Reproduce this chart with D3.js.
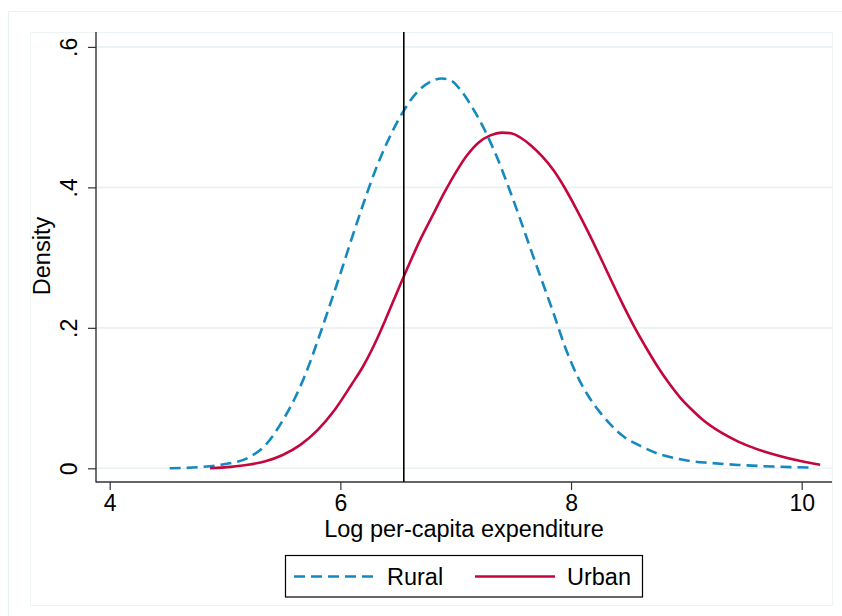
<!DOCTYPE html>
<html>
<head>
<meta charset="utf-8">
<script src="https://cdn.jsdelivr.net/npm/d3@7"></script>
<style>
  html, body { margin: 0; padding: 0; background: #ffffff; }
  svg { display: block; font-family: "Liberation Sans", Arial, Helvetica, sans-serif; }
</style>
</head>
<body>
<svg id="chart" width="842" height="616"></svg>
<script>
// ---- data ----
const ruralX = [4.52,4.80,5.00,5.20,5.35,5.50,5.60,5.70,5.80,5.90,6.00,6.10,6.20,6.30,6.40,6.50,6.60,6.70,6.80,6.88,6.95,7.05,7.15,7.25,7.35,7.45,7.55,7.65,7.75,7.85,7.95,8.05,8.15,8.25,8.35,8.45,8.60,8.75,8.90,9.05,9.20,9.45,9.75,10.10];
const ruralY = [0.000,0.002,0.006,0.015,0.033,0.068,0.098,0.135,0.180,0.228,0.277,0.328,0.377,0.423,0.462,0.495,0.522,0.541,0.552,0.555,0.553,0.537,0.512,0.482,0.446,0.404,0.359,0.312,0.266,0.220,0.172,0.133,0.103,0.080,0.061,0.046,0.032,0.021,0.0145,0.010,0.0077,0.0048,0.0025,0.001];
const urbanX = [4.87,5.05,5.20,5.35,5.50,5.65,5.80,5.95,6.10,6.20,6.30,6.40,6.50,6.60,6.70,6.80,6.90,7.00,7.10,7.20,7.30,7.40,7.48,7.56,7.65,7.75,7.85,7.95,8.05,8.15,8.25,8.35,8.45,8.55,8.65,8.75,8.85,8.95,9.05,9.15,9.30,9.45,9.60,9.80,10.00,10.16];
const urbanY = [0.000,0.002,0.005,0.010,0.019,0.033,0.054,0.083,0.120,0.146,0.178,0.215,0.254,0.292,0.328,0.360,0.392,0.421,0.446,0.464,0.474,0.478,0.477,0.471,0.460,0.444,0.424,0.398,0.368,0.336,0.302,0.267,0.233,0.201,0.172,0.145,0.121,0.100,0.083,0.068,0.051,0.038,0.028,0.018,0.010,0.005];
const povertyLine = 6.55;
const xTicks = [4, 6, 8, 10];
const yTicks = [0, 0.2, 0.4, 0.6];
const yTickLabels = ["0", ".2", ".4", ".6"];
const seriesNames = ["Rural", "Urban"];
const xTitle = "Log per-capita expenditure";
const yTitle = "Density";

// ---- layout ----
const svg = d3.select("#chart");
const plotL = 96, plotR = 832, plotT = 32, plotB = 482;
const colRural = "#1489bf", colUrban = "#c3063e";
const gridCol = "#e9f1f3", axisCol = "#333333";

const x = d3.scaleLinear().domain([4, 10]).range([109.7, 801.7]);
const y = d3.scaleLinear().domain([0, 0.6]).range([468.3, 46.9]);

// frames
svg.append("rect").attr("x", 8.5).attr("y", 11.5).attr("width", 900).attr("height", 700)
  .attr("fill", "none").attr("stroke", "#eaf1f3").attr("stroke-width", 1);
svg.append("rect").attr("x", 30.5).attr("y", 32.5).attr("width", plotR - 30).attr("height", 605 - 32)
  .attr("fill", "none").attr("stroke", "#eef4f5").attr("stroke-width", 1);

// gridlines
svg.append("g").selectAll("line").data(yTicks).join("line")
  .attr("x1", plotL).attr("x2", plotR)
  .attr("y1", d => y(d)).attr("y2", d => y(d))
  .attr("stroke", gridCol).attr("stroke-width", 1.6);

// axes
const yAxis = d3.axisLeft(y).tickValues(yTicks).tickSize(8).tickPadding(0)
  .tickFormat((d, i) => yTickLabels[i]);
const gy = svg.append("g").attr("transform", `translate(${plotL},0)`).call(yAxis);
gy.select(".domain").remove();
gy.selectAll(".tick line").attr("stroke", axisCol).attr("stroke-width", 1.2);
gy.selectAll(".tick text")
  .attr("transform", "translate(-19,0) rotate(-90)")
  .attr("x", 0).attr("y", 0).attr("dy", 0)
  .attr("text-anchor", "middle")
  .attr("fill", "#000").style("font-size", "23px")
  .style("font-family", "Liberation Sans, Arial, sans-serif");

const xAxis = d3.axisBottom(x).tickValues(xTicks).tickSize(8).tickPadding(0)
  .tickFormat(d3.format("d"));
const gx = svg.append("g").attr("transform", `translate(0,${plotB})`).call(xAxis);
gx.select(".domain").remove();
gx.selectAll(".tick line").attr("stroke", axisCol).attr("stroke-width", 1.2);
gx.selectAll(".tick text")
  .attr("y", 29).attr("dy", 0)
  .attr("fill", "#000").style("font-size", "23px")
  .style("font-family", "Liberation Sans, Arial, sans-serif");

// axis lines
svg.append("line").attr("x1", plotL).attr("x2", plotL).attr("y1", plotT).attr("y2", plotB + 0.5)
  .attr("stroke", axisCol).attr("stroke-width", 1.4);
svg.append("line").attr("x1", plotL).attr("x2", plotR).attr("y1", plotB).attr("y2", plotB)
  .attr("stroke", axisCol).attr("stroke-width", 1.4);

// titles
svg.append("text").attr("x", (plotL + plotR) / 2).attr("y", 537)
  .attr("text-anchor", "middle").style("font-size", "23.5px").attr("fill", "#000").text(xTitle);
svg.append("text").attr("transform", "translate(50,256) rotate(-90)")
  .attr("text-anchor", "middle").style("font-size", "23.5px").attr("fill", "#000").text(yTitle);

// curves
const line = d3.line().x(d => x(d[0])).y(d => y(d[1])).curve(d3.curveMonotoneX);
const rural = ruralX.map((v, i) => [v, ruralY[i]]);
const urban = urbanX.map((v, i) => [v, urbanY[i]]);

svg.append("path").datum(rural).attr("d", line)
  .attr("fill", "none").attr("stroke", colRural).attr("stroke-width", 2.6)
  .attr("stroke-dasharray", "11,6");
svg.append("path").datum(urban).attr("d", line)
  .attr("fill", "none").attr("stroke", colUrban).attr("stroke-width", 2.6);

// vertical reference line
svg.append("line").attr("x1", x(povertyLine)).attr("x2", x(povertyLine))
  .attr("y1", plotT).attr("y2", plotB)
  .attr("stroke", "#000").attr("stroke-width", 1.6);

// legend
const lg = svg.append("g");
lg.append("rect").attr("x", 285.5).attr("y", 555.5).attr("width", 357).attr("height", 41.5)
  .attr("fill", "#fff").attr("stroke", "#000").attr("stroke-width", 1.2);
lg.append("line").attr("x1", 294).attr("x2", 375).attr("y1", 576.5).attr("y2", 576.5)
  .attr("stroke", colRural).attr("stroke-width", 2.6).attr("stroke-dasharray", "11,6");
lg.append("text").attr("x", 387).attr("y", 584.5).style("font-size", "23.5px").attr("fill", "#000").text(seriesNames[0]);
lg.append("line").attr("x1", 475).attr("x2", 555).attr("y1", 576.5).attr("y2", 576.5)
  .attr("stroke", colUrban).attr("stroke-width", 2.6);
lg.append("text").attr("x", 567).attr("y", 584.5).style("font-size", "23.5px").attr("fill", "#000").text(seriesNames[1]);
</script>
</body>
</html>
